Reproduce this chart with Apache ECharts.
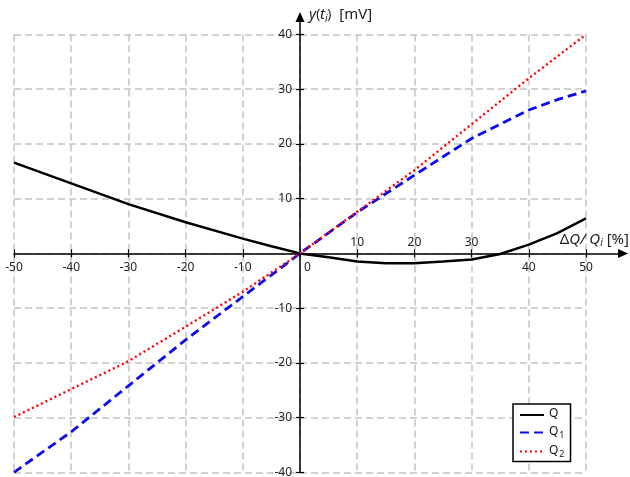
<!DOCTYPE html>
<html>
<head>
<meta charset="utf-8">
<script src="https://cdn.jsdelivr.net/npm/echarts@6/dist/echarts.min.js"></script>
<style>
html, body { margin: 0; padding: 0; background: #fff; }
#chart { width: 630px; height: 477px; }
</style>
</head>
<body>
<div id="chart"></div>
<script>
// Relative flow deviation ΔQ/Qi [%] and measured output y(ti) [mV]
const xQ  = [-50, -40, -30, -20, -10, -5, 0, 5, 10, 15, 20, 25, 30, 35, 40, 45, 50];
const yQ  = [16.6, 12.8, 9.0, 5.7, 2.7, 1.3, 0, -0.7, -1.5, -1.8, -1.8, -1.5, -1.1, -0.1, 1.6, 3.7, 6.4];

const xQ12 = [-50, -40, -30, -20, -10, 0, 10, 20, 30, 40, 45, 50];
const yQ1  = [-40.0, -32.6, -24.2, -15.8, -7.9, 0, 7.5, 14.3, 21.0, 26.2, 28.1, 29.7];
const yQ2  = [-29.9, -24.8, -19.7, -13.4, -7.0, 0, 7.6, 15.2, 23.6, 32.0, 36.0, 40.0];

const xTicks = [-50, -40, -30, -20, -10, 0, 10, 20, 30, 40, 50];
const yTicks = [-40, -30, -20, -10, 0, 10, 20, 30, 40];
const xLabelsAbove = [10, 20, 30];

const seriesNames = ['Q', 'Q1', 'Q2'];

// Plot rectangle (data range) and the longer rectangle the arrowed axes use
const plot = { left: 14, top: 34.5, width: 572, height: 437.8 };
const arrowEnd = { x: 623, y: 17 };
const xMin = -50, xMax = 50, yMin = -40, yMax = 40;
const pxPerX = plot.width / (xMax - xMin);
const pxPerY = plot.height / (yMax - yMin);
const axesRect = {
  left: plot.left,
  top: arrowEnd.y,
  width: arrowEnd.x - plot.left,
  height: plot.top + plot.height - arrowEnd.y
};
const xMaxExt = xMin + axesRect.width / pxPerX;
const yMaxExt = yMin + axesRect.height / pxPerY;
// distance of the zero lines from the bottom / left edge of the plot
const zeroFromBottom = (0 - yMin) * pxPerY;
const zeroFromLeft = (0 - xMin) * pxPerX;

const FONT = 'Noto Sans';
const labelColor = '#222';

function pairs(xs, ys) { return xs.map((x, i) => [x, ys[i]]); }

const nameRich = {
  n: { fontFamily: FONT, fontSize: 15, color: '#222' },
  i: { fontFamily: FONT, fontSize: 15, color: '#222', fontStyle: 'italic' },
  s: { fontFamily: FONT, fontSize: 10, color: '#222', fontStyle: 'italic', padding: [8, 0, 0, 0] }
};

const legendRich = {
  t: { fontFamily: FONT, fontSize: 12, color: '#111', lineHeight: 14, verticalAlign: 'top' },
  s: { fontFamily: FONT, fontSize: 9, color: '#111', lineHeight: 10, verticalAlign: 'bottom', padding: [9, 0, 0, 1] }
};

const gridLine = { show: true, lineStyle: { color: '#c4c4c4', width: 1.5, type: [7, 4] } };
const tickStyle = { color: '#000', width: 1.2 };
const axisStroke = { color: '#000', width: 1.5 };

const chart = echarts.init(document.getElementById('chart'), null, { renderer: 'canvas' });

chart.setOption({
  animation: false,
  backgroundColor: '#fff',
  grid: [
    { left: axesRect.left, top: axesRect.top, width: axesRect.width, height: axesRect.height,
      containLabel: false, outerBoundsMode: 'none' },
    { left: plot.left, top: plot.top, width: plot.width, height: plot.height,
      containLabel: false, outerBoundsMode: 'none' }
  ],
  xAxis: [
    {
      type: 'value', gridIndex: 0, min: xMin, max: xMaxExt,
      position: 'bottom', offset: -zeroFromBottom,
      splitLine: { show: false },
      axisLine: { show: true, onZero: false, symbol: ['none', 'triangle'], symbolSize: [9, 10], lineStyle: axisStroke },
      axisTick: { show: true, length: 4, customValues: xTicks, lineStyle: tickStyle },
      axisLabel: {
        show: true, margin: 8, customValues: xTicks.filter(v => xLabelsAbove.indexOf(v) < 0),
        color: labelColor, fontFamily: FONT, fontSize: 12,
        formatter: v => v === 0 ? '{z|0}' : String(v),
        rich: { z: { fontFamily: FONT, fontSize: 12, color: labelColor, padding: [0, 0, 0, 15] } }
      },
      name: '{n|Δ}{i|Q/ Q}{s|i}{n| [%]}',
      nameLocation: 'end',
      nameGap: 6,
      nameMoveOverlap: false,
      nameTextStyle: { align: 'right', verticalAlign: 'middle', padding: [0, 0, 28, 0], rich: nameRich }
    },
    {
      type: 'value', gridIndex: 1, min: xMin, max: xMax, interval: 10,
      position: 'bottom', offset: -zeroFromBottom,
      splitLine: gridLine,
      axisLine: { show: false, onZero: false },
      axisTick: { show: true, inside: true, length: 4, lineStyle: tickStyle },
      axisLabel: {
        show: true, inside: true, margin: 5, customValues: xLabelsAbove,
        color: labelColor, fontFamily: FONT, fontSize: 12
      }
    }
  ],
  yAxis: [
    {
      type: 'value', gridIndex: 0, min: yMin, max: yMaxExt,
      position: 'left', offset: -zeroFromLeft,
      splitLine: { show: false },
      axisLine: { show: true, onZero: false, symbol: ['none', 'triangle'], symbolSize: [9, 10], lineStyle: axisStroke },
      axisTick: { show: true, length: 4, customValues: yTicks, lineStyle: tickStyle },
      axisLabel: {
        show: true, margin: 8, customValues: yTicks.filter(v => v !== 0),
        color: labelColor, fontFamily: FONT, fontSize: 12
      },
      name: '{i|y}({i|t}{s|i}){n|  [mV]}',
      nameLocation: 'end',
      nameGap: 2,
      nameMoveOverlap: false,
      nameTextStyle: { align: 'left', verticalAlign: 'middle', padding: [0, 0, 0, 9], rich: nameRich }
    },
    {
      type: 'value', gridIndex: 1, min: yMin, max: yMax, interval: 10,
      position: 'left', offset: -zeroFromLeft,
      splitLine: gridLine,
      axisLine: { show: false, onZero: false },
      axisTick: { show: true, inside: true, length: 4, lineStyle: tickStyle },
      axisLabel: { show: false }
    }
  ],
  legend: {
    orient: 'vertical',
    left: 513, top: 404,
    padding: [4, 6, 3, 6],
    itemGap: 1,
    itemWidth: 24, itemHeight: 14,
    borderColor: '#000', borderWidth: 1.5,
    backgroundColor: '#fff',
    itemStyle: { opacity: 0 },
    data: seriesNames,
    formatter: name => name.length > 1 ? '{t|' + name[0] + '}{s|' + name.slice(1) + '}' : '{t|' + name + '}',
    textStyle: { rich: legendRich, fontFamily: FONT, fontSize: 12, color: '#111' }
  },
  series: [
    {
      name: seriesNames[0], type: 'line', xAxisIndex: 0, yAxisIndex: 0,
      data: pairs(xQ, yQ), symbol: 'none', showSymbol: false, z: 5,
      lineStyle: { color: '#000', width: 2.5 }, itemStyle: { color: '#000' }
    },
    {
      name: seriesNames[1], type: 'line', xAxisIndex: 0, yAxisIndex: 0,
      data: pairs(xQ12, yQ1), symbol: 'none', showSymbol: false, z: 5,
      lineStyle: { color: '#0a0af0', width: 2.8, type: [9, 5] }, itemStyle: { color: '#0a0af0' }
    },
    {
      name: seriesNames[2], type: 'line', xAxisIndex: 0, yAxisIndex: 0,
      data: pairs(xQ12, yQ2), symbol: 'none', showSymbol: false, z: 6,
      lineStyle: { color: '#ff0000', width: 2.4, type: [2, 3] }, itemStyle: { color: '#ff0000' }
    }
  ]
});
</script>
</body>
</html>
